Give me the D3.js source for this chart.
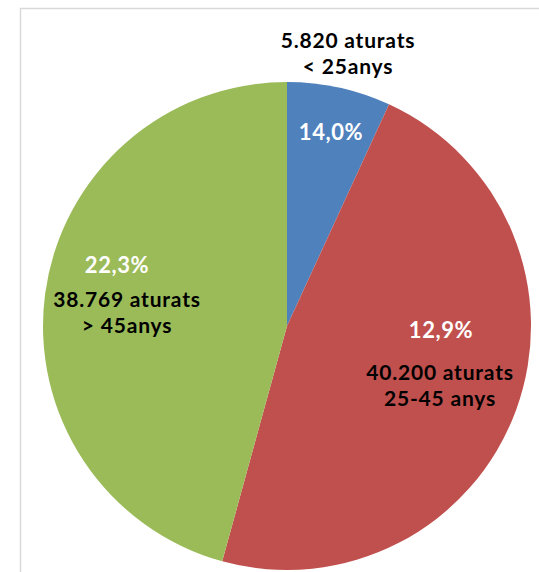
<!DOCTYPE html>
<html>
<head>
<meta charset="utf-8">
<script src="https://cdnjs.cloudflare.com/ajax/libs/d3/7.8.5/d3.min.js"></script>
<style>
  body { margin: 0; background: #fff; }
  text { font-family: Lato, 'Open Sans', sans-serif; font-weight: bold; }
</style>
</head>
<body>
<div id="chart"></div>
<script>
// slice data, in drawing order (clockwise from 12 o'clock)
var groups = ['< 25anys', '25-45 anys', '> 45anys'];
var counts = [5820, 40200, 38769];
var countLabels = ['5.820 aturats', '40.200 aturats', '38.769 aturats'];
var pctLabels = ['14,0%', '12,9%', '22,3%'];
var colors = ['#4f81bd', '#c0504d', '#9bbb59'];

var w = 539;
var h = 572;
var cx = 287;
var cy = 326;
var radius = 244;

var svg = d3
  .select('#chart')
  .append('svg')
  .attr('width', w)
  .attr('height', h);

// chart area frame (runs off the right / bottom edge)
svg
  .append('rect')
  .attr('x', 20.5)
  .attr('y', 8.5)
  .attr('width', 600)
  .attr('height', 700)
  .attr('fill', 'none')
  .attr('stroke', '#d9d9d9')
  .attr('stroke-width', 1.5);

var pie = d3
  .pie()
  .sort(null)
  .value(function(d) {
    return d;
  });

var arc = d3.arc().innerRadius(0).outerRadius(radius);

var arcs = pie(counts);

var g = svg.append('g').attr('transform', 'translate(' + cx + ',' + cy + ')');

g.selectAll('path')
  .data(arcs)
  .enter()
  .append('path')
  .attr('d', arc)
  .attr('fill', function(d, i) {
    return colors[i];
  });

// label placement, relative to the centre: [pct x, pct y, count x, count y]
var labelPos = [
  [44, -186, 61, -278],
  [154, 12, 153, 54],
  [-170, -53, -160, -19]
];

g.selectAll('.pct')
  .data(arcs)
  .enter()
  .append('text')
  .attr('class', 'pct')
  .attr('text-anchor', 'middle')
  .attr('x', function(d, i) {
    return labelPos[i][0];
  })
  .attr('y', function(d, i) {
    return labelPos[i][1];
  })
  .attr('fill', '#fff')
  .attr('font-size', 22)
  .attr('letter-spacing', 0.6)
  .text(function(d, i) {
    return pctLabels[i];
  });

var cl = g
  .selectAll('.cnt')
  .data(arcs)
  .enter()
  .append('text')
  .attr('class', 'cnt')
  .attr('text-anchor', 'middle')
  .attr('fill', '#000')
  .attr('font-size', 21)
  .attr('letter-spacing', 0.8);

cl.append('tspan')
  .attr('x', function(d, i) {
    return labelPos[i][2];
  })
  .attr('y', function(d, i) {
    return labelPos[i][3];
  })
  .text(function(d, i) {
    return countLabels[i];
  });

cl.append('tspan')
  .attr('x', function(d, i) {
    return labelPos[i][2];
  })
  .attr('dy', 26)
  .text(function(d, i) {
    return groups[i];
  });
</script>
</body>
</html>
